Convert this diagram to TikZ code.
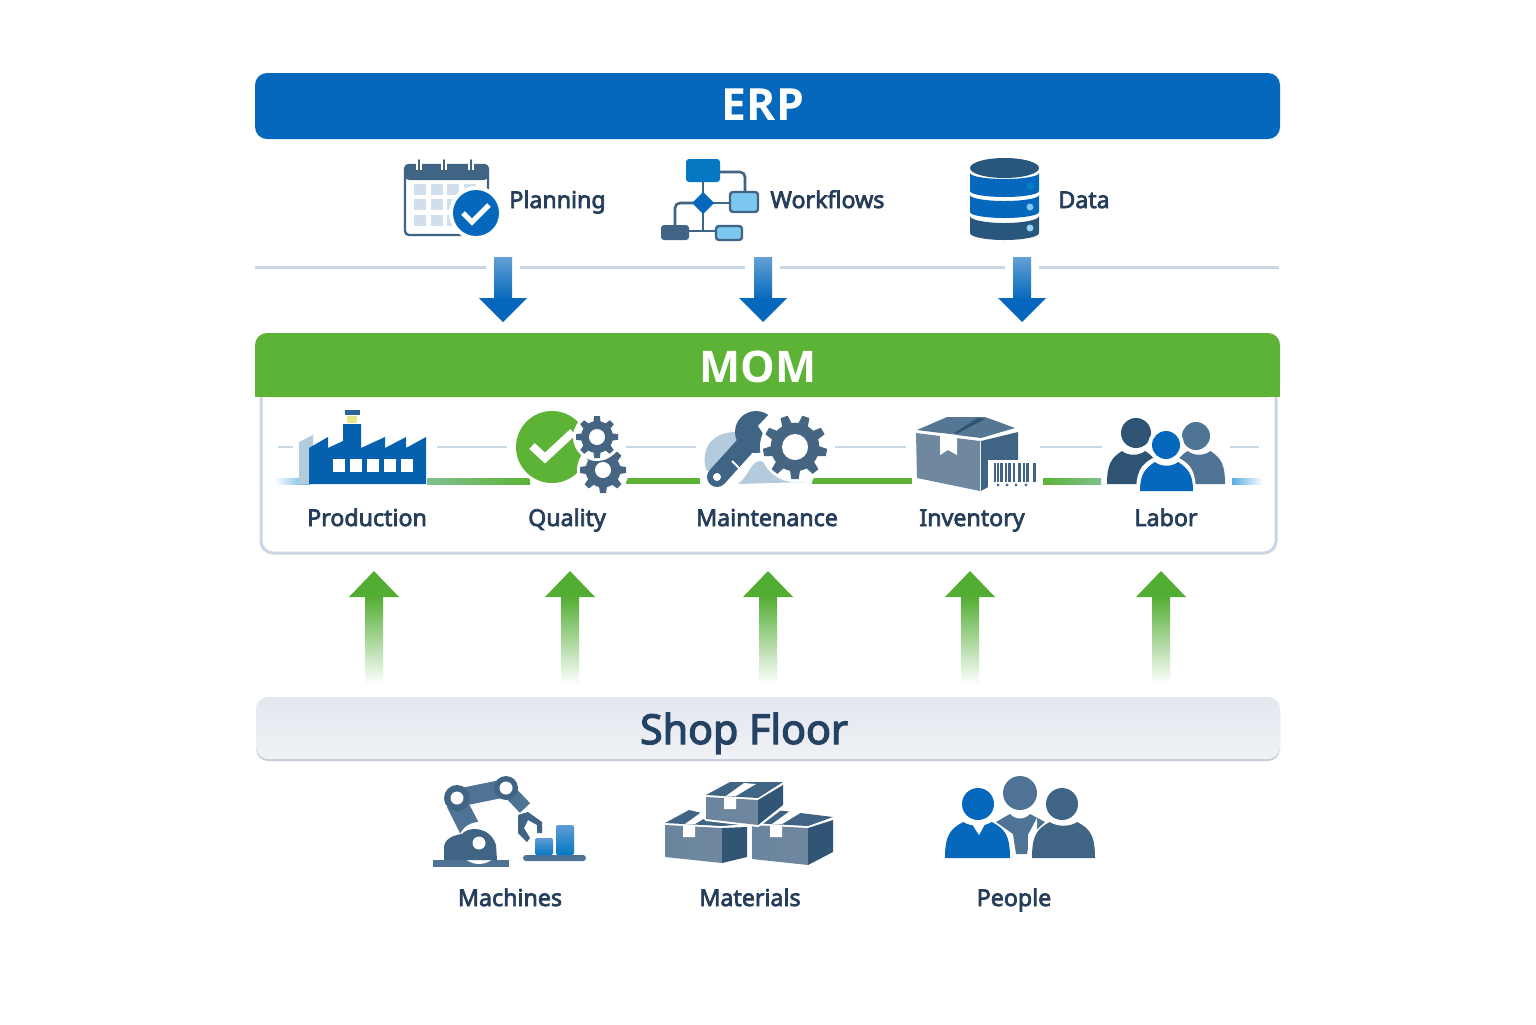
\documentclass[tikz,border=0pt]{standalone}
\usepackage{fontspec}
\setmainfont{Noto Sans}
\newfontfamily\labfont[FakeBold=3]{Noto Sans}
\newfontfamily\headfont{Open Sans}
\definecolor{erpblue}{HTML}{0568BC}
\definecolor{momgreen}{HTML}{5CB335}
\definecolor{arrowgreen}{HTML}{52AD33}
\definecolor{flowfade}{HTML}{7FC08F}
\definecolor{ink}{HTML}{263E5A}
\definecolor{slate}{HTML}{4F7394}
\definecolor{slatedark}{HTML}{2F5372}
\definecolor{slatemid}{HTML}{3F6484}
\definecolor{slatelight}{HTML}{6F889F}
\definecolor{rulegray}{HTML}{C9D6E3}
\definecolor{skyblue}{HTML}{7CC8F0}
\definecolor{paleblue}{HTML}{B4CBDD}
\definecolor{cellblue}{HTML}{D0DFEB}
\definecolor{shoptop}{HTML}{E4E7EE}
\definecolor{shopbot}{HTML}{EFF1F5}
\definecolor{shopedge}{HTML}{C6CCDC}
\tikzset{
  lab/.style={font=\labfont\fontsize{11.6}{14}\selectfont,text=ink,inner sep=0pt,anchor=base},
  thinrule/.style={rulegray,line width=1.2pt},
  wire/.style={draw=slatemid,line width=1.3pt,rounded corners=2.5pt},
}
% block arrows, placed by a named coordinate at the tip-side centre
\newcommand\downblock[1]{\begin{scope}[shift={(#1)}]
  \shade[top color=erpblue!62!white,bottom color=erpblue] (-9,0) rectangle (9,42);
  \fill[erpblue] (-24,41) -- (24,41) -- (0,65) -- cycle;
\end{scope}}
\newcommand\upblock[1]{\begin{scope}[shift={(#1)}]
  \shade[top color=arrowgreen,bottom color=white] (-9,25) rectangle (9,113);
  \fill[arrowgreen] (-25,26) -- (25,26) -- (0,0) -- cycle;
\end{scope}}
% gear: x, y, outer radius, teeth, hole radius, halo width
\newcommand\mygear[6]{\begin{scope}[shift={(#1,#2)}]
  \pgfmathsetmacro\gearrb{#3*0.76}\pgfmathsetmacro\geartw{#3*1.45/#4}\pgfmathsetmacro\gearstep{360/#4}
  \fill[white] (0,0) circle[radius=#3+#6];
  \fill[slate!88!black] (0,0) circle[radius=\gearrb];
  \foreach \k in {1,...,#4}{
    \fill[slate!88!black,rotate around={\k*\gearstep:(0,0)}] (-\geartw,\gearrb-2) -- (-\geartw*0.72,#3) -- (\geartw*0.72,#3) -- (\geartw,\gearrb-2) -- cycle;
  }
  \fill[white] (0,0) circle[radius=#5];
\end{scope}}
% person: head x,y,r, body left,right,top,bottom, colour
\newcommand\myperson[8]{
  \pgfmathsetmacro\pwid{#5-#4}\pgfmathsetmacro\pmid{(#4+#5)/2}
  \fill[#8] (#4,#7) .. controls (#4,#6+13) and (#4+\pwid*0.08,#6+7) .. (#4+\pwid*0.28,#6)
     .. controls (\pmid-\pwid*0.1,#6+5) and (\pmid+\pwid*0.1,#6+5) .. (#5-\pwid*0.28,#6)
     .. controls (#5-\pwid*0.08,#6+7) and (#5,#6+13) .. (#5,#7) -- cycle;
  \fill[#8] (#1,#2) circle[radius=#3];
}
% carton: front top-left x,y, width, height, side width, side rise
\newcommand\carton[6]{
  \shade[left color=slatelight!85!slate,right color=slatelight] (#1,#2) -- (#1+#3,#2+3) -- (#1+#3,#2+#4+2) -- (#1,#2+#4-4) -- cycle;
  \fill[slatedark!92!slate] (#1+#3,#2+3) -- (#1+#3+#5,#2-#6) -- (#1+#3+#5,#2+#4-#6-6) -- (#1+#3,#2+#4+2) -- cycle;
  \fill[slatemid] (#1,#2-2) -- (#1+24,#2-15) -- (#1+#3+#5,#2-#6-3) -- (#1+#3,#2+1) -- cycle;
  \fill[white] (#1+18,#2) -- (#1+30,#2+1) -- (#1+30,#2+12) -- (#1+18,#2+12) -- cycle;
  \fill[white] (#1+20,#2-1) -- (#1+30,#2-1) -- (#1+50,#2-13) -- (#1+38,#2-14) -- cycle;
}
\begin{document}
\begin{tikzpicture}[x=0.5pt,y=-0.5pt]
\useasboundingbox (0,0) rectangle (1536,1024);
\fill[white] (0,0) rectangle (1536,1024);

% ---------- ERP
\node[fill=erpblue,rounded corners=6pt,minimum width=512.5pt,minimum height=33pt,inner sep=0pt] (erp) at (767.5,106) {};
\node[font=\headfont\bfseries\fontsize{22.2}{24}\selectfont,text=white,inner sep=0pt,anchor=base] (erpt) at (763,120) {ERP};

% Calendar
\fill[white,draw=slatemid,line width=1.2pt,rounded corners=2pt] (405,165) rectangle (488,235);
\fill[slatemid,rounded corners=2pt] (405,164) rectangle (488,180);
\foreach \cx in {419,444,471}{\draw[white,line width=2.6pt] (\cx,160) -- (\cx,170);\draw[slatemid,line width=1pt,line cap=round] (\cx,160) -- (\cx,170);}
\foreach \cx in {414,431,447,464}{\foreach \cy in {184,199,215}{\fill[cellblue] (\cx,\cy) rectangle +(12,11);}}
\fill[white] (476,213) circle[radius=27];
\fill[erpblue] (476,213) circle[radius=23];
\draw[white,line width=2.6pt] (463,213) -- (472,222) -- (489,205);
\node[lab,anchor=base west] (planning) at (509,208) {Planning};

% Workflow
\draw[wire] (720,172) -- (745,172) -- (745,194);
\draw[wire] (703,182) -- (703,231);
\draw[wire] (703,203) -- (729,203);
\draw[wire] (703,203) -- (675,203) -- (675,226);
\draw[wire] (689,231) -- (716,231);
\fill[erpblue!90!cyan,rounded corners=1.5pt] (686,159) rectangle (720,182);
\fill[erpblue] (703,192) -- (714,203) -- (703,214) -- (692,203) -- cycle;
\draw[fill=skyblue,draw=slatemid,line width=1.2pt,rounded corners=1.5pt] (730,192) rectangle (758,212);
\fill[slatemid,rounded corners=1.5pt] (661,225) rectangle (689,240);
\draw[fill=skyblue,draw=slatemid,line width=1.2pt,rounded corners=1.5pt] (716,226) rectangle (742,240);
\node[lab,anchor=base west] (workflows) at (770,208) {Workflows};

% Database
\fill[slatedark!85!erpblue] (970,216) -- (970,233) arc[start angle=180,end angle=0,x radius=34.5,y radius=7] -- (1039,216) arc[start angle=0,end angle=180,x radius=34.5,y radius=7] -- cycle;
\fill[erpblue] (970,195) -- (970,212) arc[start angle=180,end angle=0,x radius=34.5,y radius=6] -- (1039,195) arc[start angle=0,end angle=180,x radius=34.5,y radius=6] -- cycle;
\fill[erpblue] (970,173) -- (970,191) arc[start angle=180,end angle=0,x radius=34.5,y radius=6] -- (1039,173) arc[start angle=0,end angle=180,x radius=34.5,y radius=6] -- cycle;
\fill[slatedark!85!erpblue] (1004.5,168) ellipse[x radius=34.5,y radius=10];
\fill[erpblue!85!cyan] (1030,186) circle[radius=3.5];
\fill[skyblue] (1030,207) circle[radius=3.5];
\fill[skyblue!80!white] (1030,228) circle[radius=3.5];
\node[lab,anchor=base west] (datal) at (1058,208) {Data};

% rule with gaps
\draw[thinrule,line width=1.5pt] (255,267) -- (486,267);
\draw[thinrule,line width=1.5pt] (520,267) -- (745,267);
\draw[thinrule,line width=1.5pt] (780,267) -- (1005,267);
\draw[thinrule,line width=1.5pt] (1039,267) -- (1279,267);

% down arrows
\coordinate (d1) at (503,257); \coordinate (d2) at (763,257); \coordinate (d3) at (1022,257);
\downblock{d1} \downblock{d2} \downblock{d3}

% ---------- MOM panel
\draw[rulegray,fill=white,line width=1.5pt,rounded corners=6pt] (261,385) -- (261,553) -- (1276,553) -- (1276,385);
\fill[momgreen,rounded corners=6pt] (255,397) -- (255,333) -- (1280,333) -- (1280,397) -- cycle;
\fill[momgreen] (255,385) rectangle (1280,397);
\node[inner sep=0pt] (mom) at (767.5,365) {};
\node[font=\headfont\bfseries\fontsize{21.8}{27}\selectfont,text=white,inner sep=0pt,anchor=base] (momt) at (758,382) {MOM};

% pale rules in the panel
\foreach \xa/\xb in {278/293,437/507,626/696,835/906,1029/1102,1218/1259}{\draw[thinrule] (\xa,447) -- (\xb,447);}
% flow band
\shade[left color=white,right color=skyblue!75!erpblue] (274,478) rectangle (310,484);
\shade[left color=flowfade,right color=momgreen] (427,478) rectangle (530,484);
\fill[momgreen] (626,478) rectangle (700,484);
\fill[momgreen] (812,478) rectangle (912,484);
\shade[left color=momgreen,right color=flowfade] (1043,478) rectangle (1101,484);
\shade[left color=skyblue!70!erpblue,right color=white] (1232,478) rectangle (1263,484);

% Production
\fill[paleblue] (299,442) -- (313,435) -- (313,484) -- (299,484) -- cycle;
\fill[erpblue!92!black] (309,448) -- (328,437) -- (328,448) -- (343,441) -- (343,424) -- (361,424) -- (361,448) -- (385,437) -- (385,448) -- (406,437) -- (406,448) -- (426,437) -- (426,484) -- (309,484) -- cycle;
\fill[slatemid!70!erpblue] (345,410) rectangle (360,415);
\fill[yellow!45!cellblue] (347,416) rectangle (357,423);
\foreach \wx in {333,350,367,384,401}{\fill[white] (\wx,459) rectangle +(12,13);}
\node[lab] (production) at (367,526) {Production};

% Quality
\fill[white] (552,447) circle[radius=39];
\fill[momgreen] (552,447) circle[radius=36];
\draw[white,line width=4pt] (532,446) -- (545,458) -- (573,432);
\mygear{603}{470}{23}{8}{8}{3}
\mygear{597}{437}{21}{8}{8}{3}
\node[lab] (quality) at (567,526) {Quality};

% Maintenance
\fill[white] (768,458) circle[radius=50];
\fill[paleblue] (706,470) .. controls (700,445) and (715,432) .. (736,432) -- (750,445) -- (715,472) -- cycle;
\fill[paleblue] (738,484) .. controls (750,475) and (750,462) .. (760,461) .. controls (775,465) and (780,480) .. (805,482) -- cycle;
\draw[white,line width=6pt] (717,477) -- (748,443);
\draw[slatemid,line width=10pt,line cap=round] (717,477) -- (745,446);
\fill[slatemid] (756,432) circle[radius=21];
\fill[white] (772,411) -- (758,426) -- (766,438) -- (784,428) -- cycle;
\draw[white,line width=1pt] (732,461) -- (741,470);
\fill[white] (717,477) circle[radius=4];
\mygear{795}{447}{32}{9}{13}{3}
\node[lab] (maintenance) at (767,526) {Maintenance};

% Inventory
\fill[white] (912,410) rectangle (1040,494);
\fill[slatelight] (916,433) -- (980,441) -- (980,491) -- (917,478) -- cycle;
\fill[slatemid] (981,441) -- (1018,432) -- (1018,470) -- (981,491) -- cycle;
\fill[slatemid!88!white] (917,430) -- (947,417) -- (985,417) -- (1015,428) -- (981,438) -- cycle;
\fill[slatedark] (954,433) -- (958,433) -- (985,419) -- (978,418) -- cycle;
\fill[white] (940,433) -- (957,435) -- (957,455) -- (948,450) -- (940,455) -- cycle;
\fill[white] (988,460) rectangle (1037,491);
\foreach \bx/\bw in {994/2,997/1.5,1000/3,1005/1.5,1008/3,1013/1.5,1018/3,1023/1.5,1026/3,1033/3}{\fill[slatemid] (\bx,463) rectangle +(\bw,19);}
\foreach \bx in {998,1007,1016,1026}{\fill[slate] (\bx,485) circle[radius=1.6];}
\node[lab] (inventory) at (972,526) {Inventory};

% Labor
\fill[white] (1102,410) rectangle (1230,494);
\myperson{1136}{433}{15}{1107}{1160}{451}{484}{slatedark}
\myperson{1196}{436}{14}{1173}{1225}{451}{484}{slate}
\fill[white] (1166,445) circle[radius=18];
\myperson{1166}{445}{14}{1136}{1196}{458}{495}{white}
\myperson{1166}{445}{14}{1140}{1193}{462}{491}{erpblue}
\node[lab] (labor) at (1166,526) {Labor};

% up arrows
\coordinate (u1) at (374,571); \coordinate (u2) at (570,571); \coordinate (u3) at (768,571);
\coordinate (u4) at (970,571); \coordinate (u5) at (1161,571);
\upblock{u1} \upblock{u2} \upblock{u3} \upblock{u4} \upblock{u5}

% ---------- Shop floor
\fill[shopedge,rounded corners=6pt] (256,700) rectangle (1280,761);
\shade[top color=shoptop,bottom color=shopbot,rounded corners=6pt] (256,697) rectangle (1280,759);
\node[inner sep=0pt] (shop) at (768,728) {};
\node[font=\labfont\fontsize{20.6}{24}\selectfont,text=ink!90!erpblue,inner sep=0pt,anchor=base] (shopt) at (744,744) {Shop Floor};

% Machines
\fill[slate] (433,860) rectangle (509,867);
\fill[slate] (462,837) -- (447,807) -- (468,802) -- (481,827) -- cycle;
\draw[slate,line width=9pt] (457,798) -- (506,788);
\draw[slate,line width=7pt] (506,788) -- (525,808);
\fill[white] (520,813) -- (530,806) -- (533,809) -- (523,816) -- cycle;
\fill[white] (479,843) circle[radius=21];
\fill[slatemid] (444,860) -- (444,848) .. controls (444,838) and (455,835) .. (462,834) .. controls (468,826) and (490,826) .. (496,845) -- (497,860) -- cycle;
\fill[white] (479,843) circle[radius=6.5];
\fill[slatemid] (457,798) circle[radius=13];
\fill[white] (457,798) circle[radius=6.5];
\fill[slatemid] (506,788) circle[radius=12];
\fill[white] (506,788) circle[radius=6.5];
\fill[slatemid] (518,815) -- (528,812) -- (542,822) -- (542,833) -- (537,833) -- (537,825) -- (528,820) -- (524,828) -- (530,838) -- (527,842) -- (518,833) -- cycle;
\fill[slate,rounded corners=1.5pt] (523,855) rectangle (586,861);
\shade[top color=erpblue!65!white,bottom color=erpblue!90!cyan,rounded corners=1pt] (535,838) rectangle (553,855);
\shade[top color=erpblue!65!white,bottom color=erpblue!90!cyan,rounded corners=1pt] (556,825) rectangle (574,855);
\node[lab] (machines) at (510,906) {Machines};

% Materials
\carton{665}{825}{57}{36}{25}{-2}
\carton{752}{825}{56}{38}{25}{5}
\draw[white,fill=white,line width=2pt,line join=round] (706,795) -- (730,782) -- (783,785) -- (783,806) -- (758,825) -- (706,819) -- cycle;
\carton{706}{797}{52}{26}{25}{12}
\node[lab] (materials) at (750,906) {Materials};

% People
\fill[slate] (996,822) -- (1010,814) .. controls (1015,820) and (1025,820) .. (1030,814) -- (1045,822) -- (1030,836) -- (1027,854) -- (1016,854) -- (1013,834) -- cycle;
\fill[slate] (1020,793) circle[radius=17];
\fill[white] (1037,818) -- (1037,860) -- (1028,860) -- (1028,835) -- cycle;
\myperson{978}{804}{16}{945}{1010}{822}{858}{erpblue}
\fill[white] (972,824) -- (985,824) -- (979,835) -- cycle;
\myperson{1062}{804}{16}{1032}{1095}{822}{858}{slatemid}
\node[lab] (people) at (1014,906) {People};
\end{tikzpicture}
\end{document}
